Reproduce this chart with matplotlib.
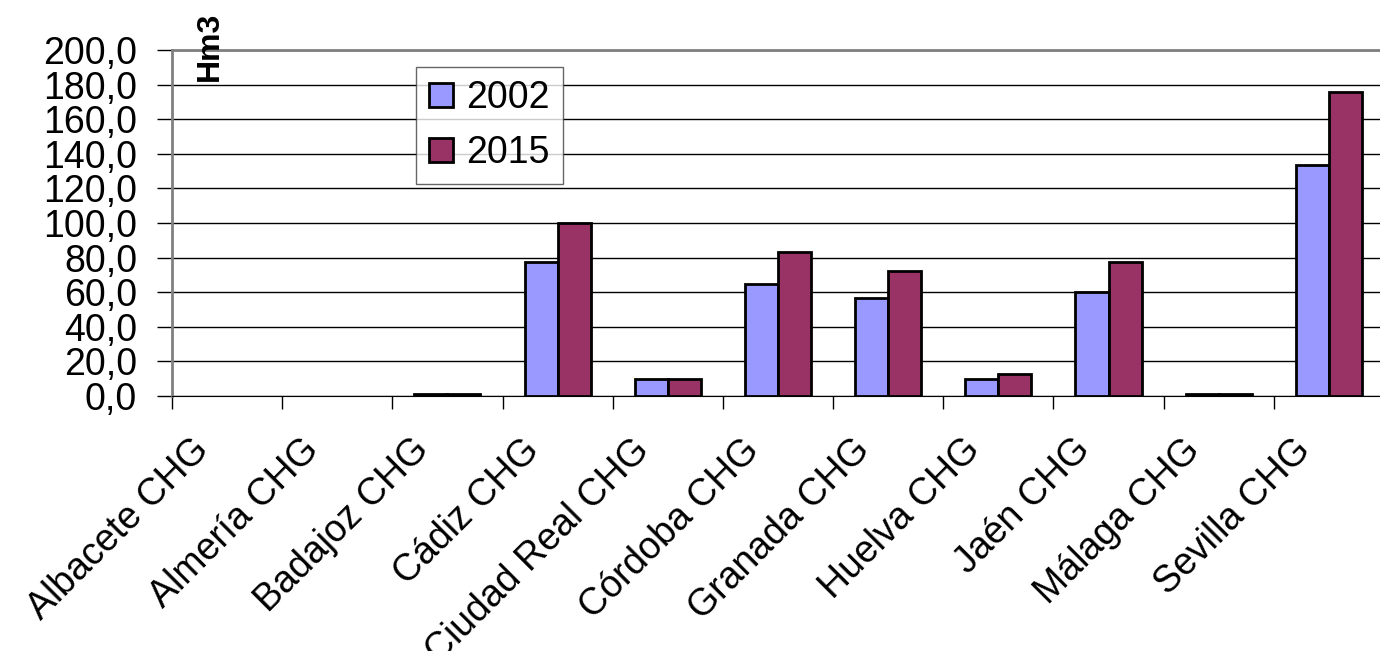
import numpy as np
import matplotlib
matplotlib.use("Agg")
import matplotlib.pyplot as plt
from matplotlib.ticker import FuncFormatter, FixedLocator
from matplotlib.transforms import ScaledTranslation

plt.rcParams['font.family'] = ['Liberation Sans', 'DejaVu Sans']

provincias = ['Albacete CHG', 'Almería CHG', 'Badajoz CHG', 'Cádiz CHG',
              'Ciudad Real CHG', 'Córdoba CHG', 'Granada CHG', 'Huelva CHG',
              'Jaén CHG', 'Málaga CHG', 'Sevilla CHG']
v2002 = [0.0, 0.0, 1.0, 77.5, 10.0, 64.5, 56.5, 10.0, 60.0, 1.0, 133.5]
v2015 = [0.0, 0.0, 1.0, 100.0, 10.0, 83.5, 72.5, 13.0, 77.5, 1.0, 175.5]

fig = plt.figure(figsize=(13.8, 6.51), dpi=100)
ax = fig.add_axes([0.1246, 0.3917, 0.8783, 0.5315])

x = np.arange(len(provincias))
w = 0.30
a02 = np.array(v2002)
a15 = np.array(v2015)
m02 = a02 > 0
m15 = a15 > 0
ax.bar(x[m02] - w / 2, a02[m02], w, color='#9999FF', edgecolor='black', linewidth=2, label='2002', zorder=3)
ax.bar(x[m15] + w / 2, a15[m15], w, color='#993366', edgecolor='black', linewidth=2, label='2015', zorder=3)

ax.set_xlim(-0.5, len(provincias) - 0.5)
ax.set_ylim(0, 200)
ax.set_yticks(np.arange(0, 201, 20))
ax.yaxis.set_major_formatter(FuncFormatter(lambda v, p: f"{v:.1f}".replace('.', ',')))
ax.grid(axis='y', color='black', linewidth=1, zorder=0)

ax.set_xticks(x)
ax.set_xticklabels(provincias, rotation=45, ha='right', va='center', rotation_mode='anchor')
ax.tick_params(axis='x', which='major', length=0, pad=35, labelsize=27)
shift = ScaledTranslation(-0.24, 0, fig.dpi_scale_trans)
for lab in ax.get_xticklabels():
    lab.set_transform(lab.get_transform() + shift)
ax.xaxis.set_minor_locator(FixedLocator(np.arange(-0.5, len(provincias), 1.0)))
ax.tick_params(axis='x', which='minor', length=9, width=1, color='black')
ax.tick_params(axis='y', length=11, width=1, labelsize=27, pad=14)

ax.spines['right'].set_visible(False)
ax.spines['top'].set_color('#808080')
ax.spines['top'].set_linewidth(2)
ax.spines['left'].set_color('#808080')
ax.spines['left'].set_linewidth(2)
ax.spines['bottom'].set_color('black')

ax.text(0.031, 1.0116, 'Hm3', transform=ax.transAxes, rotation=90, fontsize=23,
        fontweight='bold', ha='center', va='center')

leg = ax.legend(loc='upper left', bbox_to_anchor=(0.2013, 0.951), borderaxespad=0,
                fontsize=27, frameon=True, fancybox=False, edgecolor='#404040',
                handlelength=0.65, handleheight=0.6, handletextpad=0.35,
                labelspacing=0.5, borderpad=0.35)
leg.get_frame().set_linewidth(1)

fig.savefig('out.png', dpi=100)
